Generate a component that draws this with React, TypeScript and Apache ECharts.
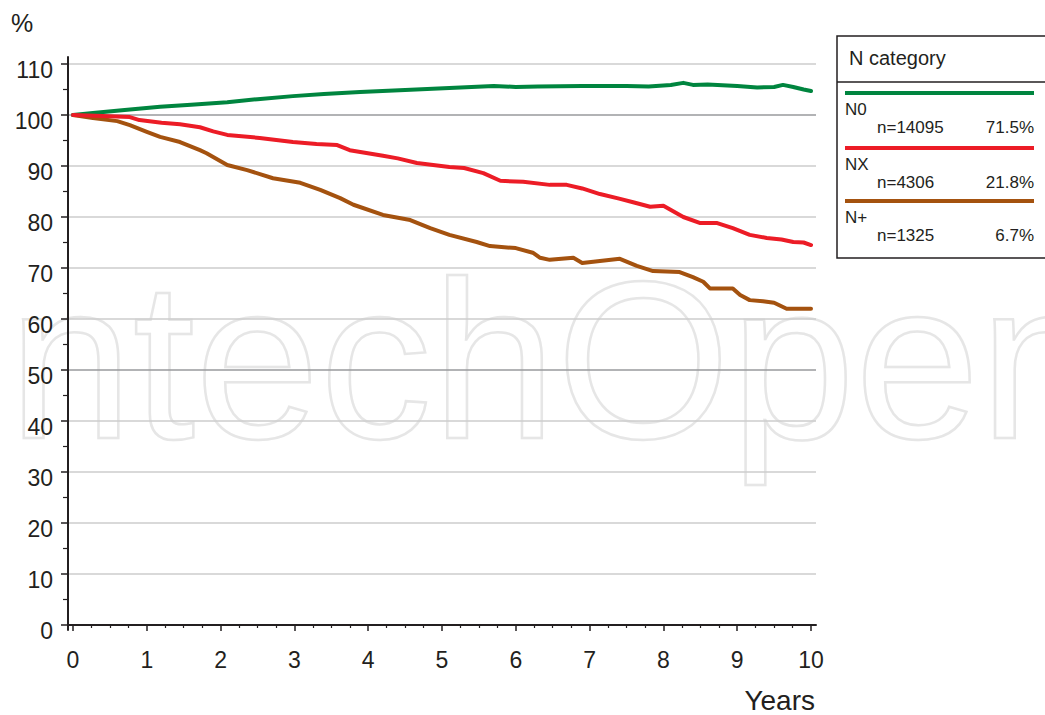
import React, { useEffect, useRef } from 'react';
import * as echarts from 'echarts';

// ---- Data ----
const n0Years = [0, 0.27, 0.7, 1.18, 1.6, 2.09, 2.5, 2.98, 3.4, 3.89, 4.5, 5.1, 5.7, 6.0, 6.3, 6.9, 7.5, 7.8, 8.1, 8.27, 8.4, 8.6, 9.0, 9.27, 9.5, 9.62, 9.76, 9.9, 10];
const n0Values = [100, 100.4, 101.0, 101.6, 102.0, 102.5, 103.1, 103.7, 104.1, 104.5, 104.9, 105.3, 105.7, 105.5, 105.6, 105.7, 105.7, 105.6, 105.9, 106.3, 105.9, 106.0, 105.7, 105.4, 105.5, 105.9, 105.5, 105.0, 104.7];

const nxYears = [0, 0.4, 0.77, 0.9, 1.2, 1.45, 1.72, 1.9, 2.09, 2.53, 2.98, 3.3, 3.58, 3.75, 4.2, 4.4, 4.66, 5.1, 5.3, 5.56, 5.79, 6.1, 6.46, 6.69, 6.9, 7.14, 7.4, 7.59, 7.82, 8.0, 8.27, 8.5, 8.73, 8.94, 9.17, 9.4, 9.6, 9.76, 9.9, 10];
const nxValues = [100, 99.8, 99.6, 99.0, 98.5, 98.2, 97.6, 96.8, 96.1, 95.5, 94.7, 94.3, 94.1, 93.1, 92.0, 91.5, 90.6, 89.8, 89.6, 88.6, 87.1, 86.9, 86.3, 86.3, 85.6, 84.5, 83.6, 82.9, 82.0, 82.2, 80.0, 78.8, 78.8, 77.8, 76.5, 75.9, 75.6, 75.1, 75.0, 74.5];

const npYears = [0, 0.27, 0.6, 0.77, 1.0, 1.18, 1.45, 1.72, 1.81, 2.09, 2.36, 2.71, 3.08, 3.35, 3.62, 3.8, 4.2, 4.57, 4.84, 5.1, 5.47, 5.65, 6.0, 6.23, 6.33, 6.46, 6.78, 6.9, 7.41, 7.64, 7.86, 8.22, 8.4, 8.54, 8.63, 8.94, 9.04, 9.17, 9.35, 9.5, 9.67, 10];
const npValues = [100, 99.4, 98.8, 98.0, 96.7, 95.7, 94.7, 93.1, 92.5, 90.2, 89.2, 87.6, 86.7, 85.3, 83.7, 82.4, 80.4, 79.4, 77.8, 76.5, 75.1, 74.3, 73.9, 73.0, 72.0, 71.6, 72.0, 71.0, 71.8, 70.4, 69.4, 69.2, 68.2, 67.3, 66.0, 66.0, 64.7, 63.7, 63.5, 63.2, 62.0, 62.0];

const categoryTitle = 'N category';
const seriesNames = ['N0', 'NX', 'N+'];
const seriesCounts = ['n=14095', 'n=4306', 'n=1325'];
const seriesShares = ['71.5%', '21.8%', '6.7%'];
const seriesColors = ['#00853f', '#ec1c26', '#a4520f'];
const yTickValues = [0, 10, 20, 30, 40, 50, 60, 70, 80, 90, 100, 110];
const emphasisLines = [50, 100];
const xTitle = 'Years';
const yTitle = '%';
const watermark = 'IntechOpen';

const FONT = "'Liberation Sans', Arial, Helvetica, sans-serif";
const INK = '#231f20';

const zip = (xs: number[], ys: number[]) => xs.map((x, i) => [x, ys[i]]);

export default function App() {
  const ref = useRef<HTMLDivElement>(null);

  useEffect(() => {
    if (!ref.current) return;
    const chart = echarts.init(ref.current, undefined, { renderer: 'svg' });

    const splitColors = yTickValues.map((v) =>
      v === 0 ? 'rgba(0,0,0,0)' : emphasisLines.includes(v) ? '#999a9c' : '#cdcdcd'
    );

    const seriesData = [zip(n0Years, n0Values), zip(nxYears, nxValues), zip(npYears, npValues)];
    const drawOrder = [2, 0, 1];

    const legendRowTop = [93, 148, 201];
    const legendChildren: any[] = [
      {
        type: 'rect',
        shape: { x: 837, y: 36, width: 220, height: 222 },
        style: { fill: '#fff', stroke: INK, lineWidth: 1.5 },
      },
      {
        type: 'line',
        shape: { x1: 837, y1: 82, x2: 1050, y2: 82 },
        style: { stroke: INK, lineWidth: 1.5 },
      },
      {
        type: 'text',
        x: 849,
        y: 58,
        style: { text: categoryTitle, font: `20px ${FONT}`, fill: INK, verticalAlign: 'middle', align: 'left' },
      },
    ];
    seriesNames.forEach((name, i) => {
      const top = legendRowTop[i];
      legendChildren.push(
        {
          type: 'line',
          shape: { x1: 845, y1: top, x2: 1034, y2: top },
          style: { stroke: seriesColors[i], lineWidth: 4 },
        },
        {
          type: 'text',
          x: 845,
          y: top + 16,
          style: { text: name, font: `17px ${FONT}`, fill: INK, verticalAlign: 'middle', align: 'left' },
        },
        {
          type: 'text',
          x: 877,
          y: top + 34,
          style: { text: seriesCounts[i], font: `17px ${FONT}`, fill: INK, verticalAlign: 'middle', align: 'left' },
        },
        {
          type: 'text',
          x: 1034,
          y: top + 34,
          style: { text: seriesShares[i], font: `17px ${FONT}`, fill: INK, verticalAlign: 'middle', align: 'right' },
        }
      );
    });

    const option: any = {
      animation: false,
      backgroundColor: '#ffffff',
      textStyle: { fontFamily: FONT },
      grid: [
        { left: 68, top: 64, width: 748, height: 561, containLabel: false, outerBoundsMode: 'none' },
        { left: 73, top: 64, width: 738, height: 561, containLabel: false, outerBoundsMode: 'none' },
        { left: 68, top: 57, width: 748, height: 573, containLabel: false, outerBoundsMode: 'none' },
      ],
      xAxis: [
        {
          gridIndex: 0,
          type: 'value',
          min: 0,
          max: 1,
          position: 'bottom',
          offset: 5,
          axisLine: { show: true, lineStyle: { color: INK, width: 2 } },
          axisTick: { show: false },
          axisLabel: { show: false },
          splitLine: { show: false },
        },
        {
          gridIndex: 1,
          type: 'value',
          min: 0,
          max: 10,
          interval: 1,
          position: 'bottom',
          offset: 5,
          axisLine: { show: false },
          axisTick: { show: true, inside: false, length: 6, lineStyle: { color: INK, width: 1.5 } },
          minorTick: { show: true, splitNumber: 4, length: 3, lineStyle: { color: INK, width: 1.2 } },
          axisLabel: { show: true, margin: 18, fontSize: 23, color: INK, fontFamily: FONT },
          splitLine: { show: false },
          minorSplitLine: { show: false },
        },
        { gridIndex: 2, type: 'value', min: 0, max: 1, show: false },
      ],
      yAxis: [
        {
          gridIndex: 0,
          type: 'value',
          min: 0,
          max: 110,
          interval: 10,
          axisLine: { show: false },
          axisTick: { show: true, inside: false, length: 7, lineStyle: { color: INK, width: 1.5 } },
          minorTick: { show: true, splitNumber: 2, length: 5, lineStyle: { color: INK, width: 1.2 } },
          axisLabel: {
            show: true,
            margin: 15,
            fontSize: 23,
            color: INK,
            fontFamily: FONT,
            verticalAlign: 'top',
            lineHeight: 12,
          },
          splitLine: { show: true, showMinLine: true, showMaxLine: true, lineStyle: { color: splitColors, width: 1.6 } },
          minorSplitLine: { show: false },
        },
        { gridIndex: 1, type: 'value', min: 0, max: 110, show: false },
        {
          gridIndex: 2,
          type: 'value',
          min: 0,
          max: 1,
          axisLine: { show: true, lineStyle: { color: INK, width: 2 } },
          axisTick: { show: false },
          axisLabel: { show: false },
          splitLine: { show: false },
        },
      ],
      series: drawOrder.map((i) => ({
        name: seriesNames[i],
        type: 'line',
        xAxisIndex: 1,
        yAxisIndex: 1,
        data: seriesData[i],
        showSymbol: false,
        symbol: 'none',
        clip: false,
        z: 3,
        lineStyle: { color: seriesColors[i], width: 4, cap: 'round', join: 'round' },
        emphasis: { disabled: true },
      })),
      graphic: [
        {
          type: 'text',
          x: -54,
          y: 360,
          z: -10,
          silent: true,
          style: {
            text: watermark,
            font: `224px ${FONT}`,
            fill: 'none',
            stroke: '#e6e6e6',
            lineWidth: 2.5,
            verticalAlign: 'middle',
            align: 'left',
          },
        },
        {
          type: 'text',
          x: 22,
          y: 23,
          style: { text: yTitle, font: `25px ${FONT}`, fill: INK, align: 'center', verticalAlign: 'middle' },
        },
        {
          type: 'text',
          x: 815,
          y: 700,
          style: { text: xTitle, font: `28px ${FONT}`, fill: INK, align: 'right', verticalAlign: 'middle' },
        },
        { type: 'group', children: legendChildren },
      ],
    };

    chart.setOption(option);
    return () => chart.dispose();
  }, []);

  return (
    <div
      ref={ref}
      style={{ position: 'fixed', left: 0, top: 0, width: 1045, height: 715, background: '#fff' }}
    />
  );
}
